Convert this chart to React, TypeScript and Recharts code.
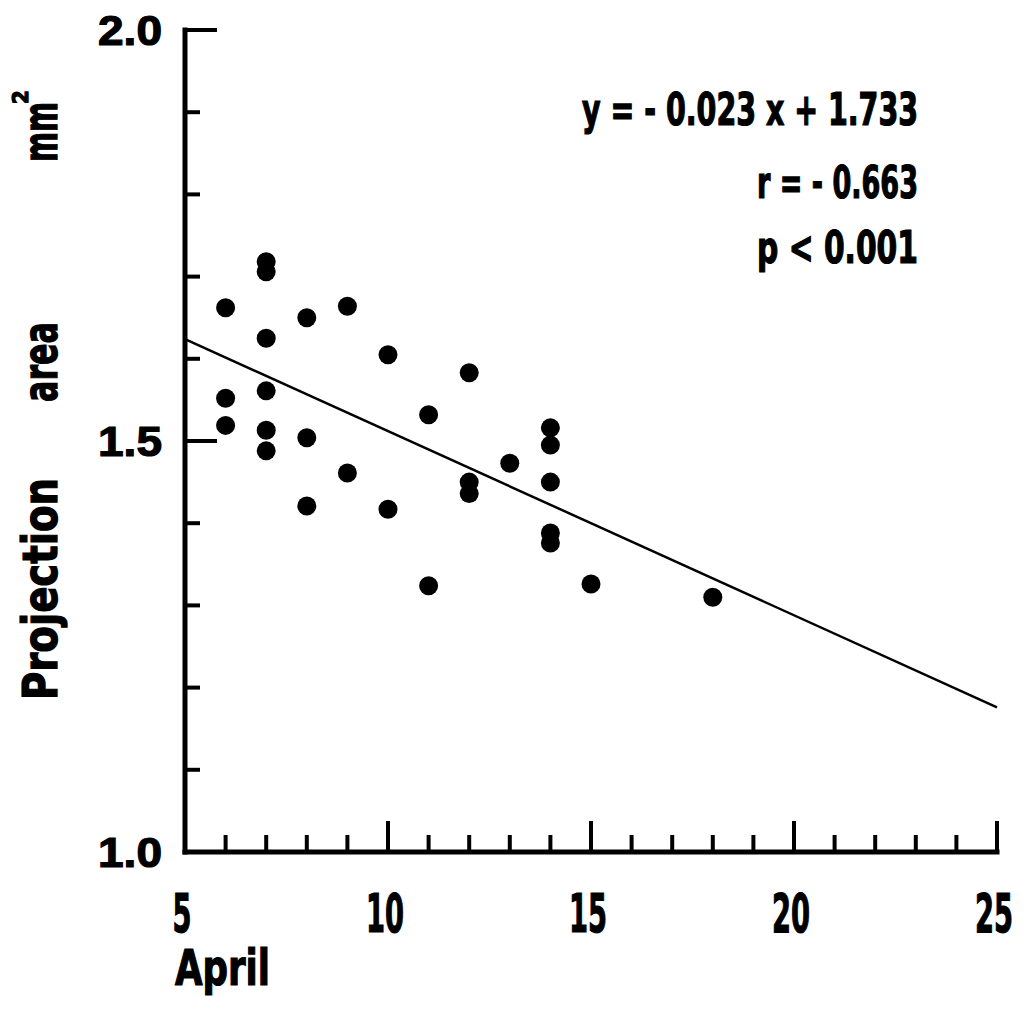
import React from 'react';
import { ScatterChart, Scatter, XAxis, YAxis } from 'recharts';

// day in April (x) and projection area in mm² (y)
const DAYS = [
  6, 6, 6,
  7, 7, 7, 7, 7, 7,
  8, 8, 8,
  9, 9,
  10, 10,
  11, 11,
  12, 12, 12,
  13,
  14, 14, 14, 14, 14,
  15,
  18,
];
const AREAS = [
  1.662, 1.552, 1.519,
  1.718, 1.706, 1.625, 1.561, 1.513, 1.488,
  1.650, 1.504, 1.421,
  1.664, 1.461,
  1.605, 1.417,
  1.532, 1.324,
  1.583, 1.450, 1.436,
  1.473,
  1.516, 1.495, 1.450, 1.388, 1.376,
  1.326,
  1.310,
];

// fitted line as drawn in the figure
const TREND_X = [5, 25];
const TREND_Y = [1.624, 1.176];

const X_TICKS = [5, 6, 7, 8, 9, 10, 11, 12, 13, 14, 15, 16, 17, 18, 19, 20, 21, 22, 23, 24, 25];
const X_LABELED = [5, 10, 15, 20, 25];
const Y_TICKS = [1.0, 1.1, 1.2, 1.3, 1.4, 1.5, 1.6, 1.7, 1.8, 1.9, 2.0];
const Y_LABELED = [1.0, 1.5, 2.0];

const STATS = ['y = - 0.023 x + 1.733', 'r = - 0.663', 'p < 0.001'];

const NARROW = "'Liberation Sans Narrow', 'DejaVu Sans Condensed', 'Liberation Sans', sans-serif";
const WIDE = "'Liberation Sans', Arial, sans-serif";

const points = DAYS.map((d, i) => ({ x: d, y: AREAS[i] }));
const trend = TREND_X.map((d, i) => ({ x: d, y: TREND_Y[i] }));

const XTick = (props: any) => {
  const { x, y, payload } = props;
  const v = payload.value;
  const major = X_LABELED.includes(v);
  return (
    <g>
      {v !== 5 && (
        <line x1={x} y1={y} x2={x} y2={y - (major ? 31 : 17)} stroke="#000" strokeWidth={4} />
      )}
      {major && (
        <text
          x={x - 3}
          y={y + 80}
          textAnchor="middle"
          fontFamily={NARROW}
          fontWeight="bold"
          fontSize={54}
          textLength={String(v).length * 19}
          lengthAdjust="spacingAndGlyphs"
          fill="#000"
          stroke="#000"
          strokeWidth={1.2}
        >
          {v}
        </text>
      )}
    </g>
  );
};

const YTick = (props: any) => {
  const { x, y, payload } = props;
  const v = payload.value;
  const labeled = Y_LABELED.some((t) => Math.abs(t - v) < 1e-6);
  const len = Math.abs(v - 1) < 1e-6 ? 0 : labeled ? 32 : 15;
  return (
    <g>
      {len > 0 && <line x1={x} y1={y} x2={x + len} y2={y} stroke="#000" strokeWidth={4} />}
      {labeled && (
        <text
          x={x - 23}
          y={y + 15}
          textAnchor="end"
          fontFamily={WIDE}
          fontWeight="bold"
          fontSize={42}
          textLength={64}
          lengthAdjust="spacingAndGlyphs"
          fill="#000"
          stroke="#000"
          strokeWidth={1.2}
        >
          {v.toFixed(1)}
        </text>
      )}
    </g>
  );
};

const Dot = (props: any) => <circle cx={props.cx} cy={props.cy} r={9.5} fill="#000" />;

const txt = {
  fontFamily: NARROW,
  fontWeight: 'bold' as const,
  fill: '#000',
  stroke: '#000',
  strokeWidth: 1.2,
  lengthAdjust: 'spacingAndGlyphs',
};

export default function App() {
  return (
    <div style={{ position: 'absolute', left: 0, top: 0, background: '#fff' }}>
      <ScatterChart width={1026} height={1009} margin={{ top: 30, right: 29, left: 0, bottom: 0 }}>
        <XAxis
          type="number"
          dataKey="x"
          domain={[5, 25]}
          ticks={X_TICKS}
          interval={0}
          height={157}
          tickSize={0}
          tickMargin={0}
          tickLine={false}
          tick={<XTick />}
          axisLine={{ stroke: '#000', strokeWidth: 5, strokeLinecap: 'square' }}
        />
        <YAxis
          type="number"
          dataKey="y"
          domain={[1, 2]}
          ticks={Y_TICKS}
          interval={0}
          width={185}
          tickSize={0}
          tickMargin={0}
          tickLine={false}
          tick={<YTick />}
          axisLine={{ stroke: '#000', strokeWidth: 5, strokeLinecap: 'square' }}
        />
        <Scatter data={points} shape={<Dot />} isAnimationActive={false} />
        <Scatter
          data={trend}
          line={{ stroke: '#000', strokeWidth: 2.5 }}
          shape={() => <g />}
          isAnimationActive={false}
        />

        {/* x axis title */}
        <text x={175} y={985} fontSize={50} textLength={95} {...txt}>April</text>

        {/* y axis title, rotated */}
        <text x={57} y={589} fontSize={48} textAnchor="middle" textLength={222} transform="rotate(-90 57 589)" {...txt}>
          Projection
        </text>
        <text x={57} y={362} fontSize={48} textAnchor="middle" textLength={80} transform="rotate(-90 57 362)" {...txt}>
          area
        </text>
        <text x={57} y={132} fontSize={48} textAnchor="middle" textLength={60} transform="rotate(-90 57 132)" {...txt}>
          mm
        </text>
        <text x={28} y={97} fontSize={22} textAnchor="middle" transform="rotate(-90 28 97)" {...txt}>
          2
        </text>

        {/* regression statistics */}
        <text x={918} y={125} fontSize={44} textAnchor="end" textLength={336} {...txt}>{STATS[0]}</text>
        <text x={918} y={198} fontSize={44} textAnchor="end" textLength={161} {...txt}>{STATS[1]}</text>
        <text x={918} y={263} fontSize={44} textAnchor="end" textLength={161} {...txt}>{STATS[2]}</text>
      </ScatterChart>
    </div>
  );
}
